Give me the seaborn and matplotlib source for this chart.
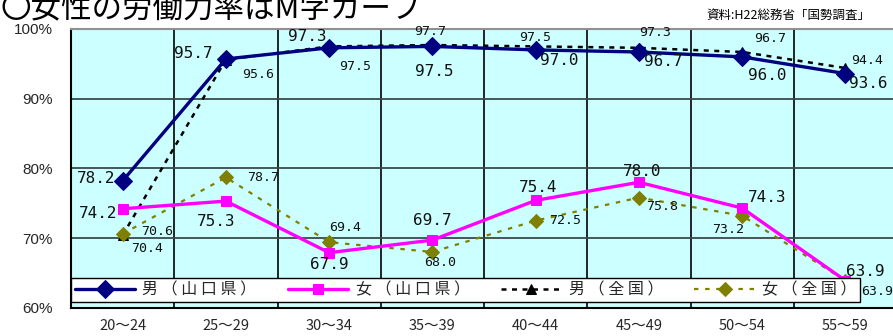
import numpy as np
import pandas as pd
import matplotlib
matplotlib.use("Agg")
import matplotlib.pyplot as plt
import seaborn as sns

# ---- data ----
categories = ["20～24", "25～29", "30～34", "35～39", "40～44", "45～49", "50～54", "55～59"]
male_yamaguchi = [78.2, 95.7, 97.3, 97.5, 97.0, 96.7, 96.0, 93.6]
female_yamaguchi = [74.2, 75.3, 67.9, 69.7, 75.4, 78.0, 74.3, 63.9]
male_national = [70.4, 95.6, 97.5, 97.7, 97.5, 97.3, 96.7, 94.4]
female_national = [70.6, 78.7, 69.4, 68.0, 72.5, 75.8, 73.2, 63.9]
series_names = ["男 （ 山 口 県 ）", "女 （ 山 口 県 ）", "男 （ 全 国 ）", "女 （ 全 国 ）"]
title_text = "〇女性の労働力率はM字カーブ"
source_text = "資料:H22総務省「国勢調査」"

# label offsets in pixels (dx, dy up)
off_my = [(-26, 2), (-33, 5), (-22, 11), (2, -25), (24, -11), (24, -10), (25, -19), (23, -10)]
off_mn = [(25, -13), (32, -15), (26, -20), (-2, 14), (0, 9), (16, 15), (28, 13), (22, 8)]
off_fy = [(-24, -5), (-10, -20), (0, -12), (0, 20), (2, 13), (3, 11), (25, 11), (20, 9)]
off_fn = [(35, 2), (37, 0), (16, 15), (8, -11), (29, 0), (23, -9), (-14, -14), (32, -11)]

sns.set_theme(style="white")
plt.rcParams["font.family"] = ["Noto Sans CJK JP", "DejaVu Sans"]

W, H = 893, 336
fig = plt.figure(figsize=(W / 100, H / 100), dpi=100)
ax_left, ax_right, ax_top, ax_bot = 71, 897, 29, 307.7
ax = fig.add_axes([ax_left / W, (H - ax_bot) / H, (ax_right - ax_left) / W, (ax_bot - ax_top) / H])
ax.set_facecolor("#CCFFFF")

xpos = np.arange(len(categories))
df = pd.DataFrame({"x": xpos, "my": male_yamaguchi, "fy": female_yamaguchi,
                   "mn": male_national, "fn": female_national})

sns.lineplot(data=df, x="x", y="mn", ax=ax, color="black", lw=1.8, linestyle=(0, (2, 2.2)),
             marker="^", markersize=7, markeredgecolor="black", label=series_names[2], zorder=3)
sns.lineplot(data=df, x="x", y="fn", ax=ax, color="#808000", lw=1.6, linestyle=(0, (2, 3)),
             marker="D", markersize=7, markeredgecolor="#808000", label=series_names[3], zorder=3)
sns.lineplot(data=df, x="x", y="my", ax=ax, color="#000080", lw=2.4,
             marker="D", markersize=9, markeredgecolor="#000080", label=series_names[0], zorder=4)
sns.lineplot(data=df, x="x", y="fy", ax=ax, color="#FF00FF", lw=2.4,
             marker="s", markersize=7.5, markeredgecolor="#FF00FF", label=series_names[1], zorder=4)

lab_font = "DejaVu Sans Mono"
def put_labels(vals, offs, size):
    for i, (v, (dx, dy)) in enumerate(zip(vals, offs)):
        ax.annotate(f"{v:.1f}", xy=(xpos[i], v), xytext=(dx, dy), textcoords="offset pixels",
                    ha="center", va="center", fontsize=size, family=lab_font, color="#111111",
                    zorder=6, annotation_clip=False)

put_labels(male_yamaguchi, off_my, 11.5)
put_labels(female_yamaguchi, off_fy, 11.5)
put_labels(male_national, off_mn, 9.5)
put_labels(female_national, off_fn, 9.5)

ax.set_xlim(-0.5, len(categories) - 0.5)
ax.set_ylim(60, 100)
ax.set_yticks([60, 70, 80, 90, 100])
ax.set_yticklabels([f"{t}%" for t in [60, 70, 80, 90, 100]], family=["Liberation Sans"], fontsize=11)
ax.set_xticks(xpos)
ax.set_xticklabels(categories, fontsize=10.5)
ax.set_xticks(xpos[:-1] + 0.5, minor=True)
ax.tick_params(axis="both", which="both", length=0)
ax.tick_params(axis="y", pad=13)
ax.tick_params(axis="x", pad=8)
ax.grid(False)
ax.grid(True, axis="x", which="minor", color="black", lw=1.2)
ax.grid(True, axis="y", which="major", color="#3a4a4a", lw=1.3)
ax.set_xlabel("")
ax.set_ylabel("")
for s in ["left", "bottom"]:
    ax.spines[s].set_color("black")
    ax.spines[s].set_linewidth(1.5)
ax.spines["top"].set_color("#909090")
ax.spines["top"].set_linewidth(1.5)
ax.spines["right"].set_visible(False)

handles, labels = ax.get_legend_handles_labels()
order = [labels.index(n) for n in series_names]
leg = ax.legend([handles[i] for i in order], [labels[i] for i in order],
                loc="lower left", bbox_to_anchor=(0.0, 0.02), ncol=4, frameon=True,
                fancybox=False, edgecolor="black", framealpha=1, fontsize=11.5,
                handlelength=3.8, handletextpad=0.45, columnspacing=1.95,
                borderpad=0.22, borderaxespad=0)
leg.get_frame().set_linewidth(1.0)
leg.set_zorder(10)

fig.text(0.0, (H - 17) / H, title_text, fontsize=22, ha="left", va="baseline", color="black")
fig.text(870 / W, (H - 15) / H, source_text, fontsize=9, ha="right", va="center", color="black")

fig.savefig("out.png", dpi=100)
